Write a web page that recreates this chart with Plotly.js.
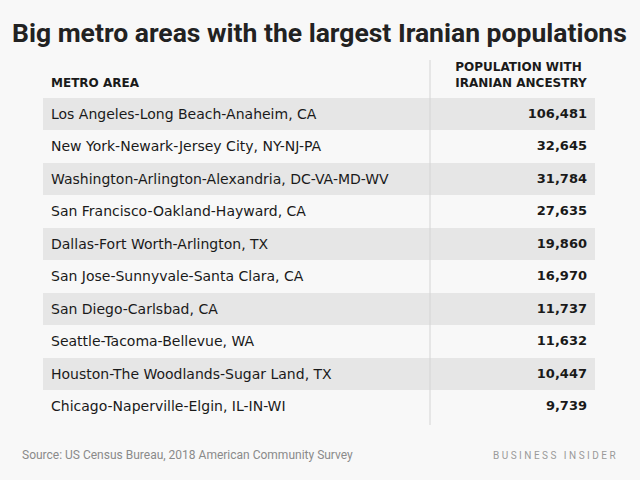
<!DOCTYPE html>
<html><head><meta charset="utf-8">
<script src="https://cdn.plot.ly/plotly-3.0.1.min.js"></script>
<style>html,body{margin:0;padding:0;background:#f8f8f8;}</style>
</head><body><div id="chart" style="width:640px;height:480px;"></div>
<script>
const metroAreas = [
  "Los Angeles-Long Beach-Anaheim, CA",
  "New York-Newark-Jersey City, NY-NJ-PA",
  "Washington-Arlington-Alexandria, DC-VA-MD-WV",
  "San Francisco-Oakland-Hayward, CA",
  "Dallas-Fort Worth-Arlington, TX",
  "San Jose-Sunnyvale-Santa Clara, CA",
  "San Diego-Carlsbad, CA",
  "Seattle-Tacoma-Bellevue, WA",
  "Houston-The Woodlands-Sugar Land, TX",
  "Chicago-Naperville-Elgin, IL-IN-WI"
];
const population = [106481, 32645, 31784, 27635, 19860, 16970, 11737, 11632, 10447, 9739];
const headers = ["\u00a0<br>METRO AREA", "POPULATION WITH<br>IRANIAN ANCESTRY"];

const bg = "#f8f8f8", shade = "#e6e6e6";
const rowFill = metroAreas.map((_, i) => i % 2 === 0 ? shade : bg);
const areaText = metroAreas.map(s => "<span>" + s + "</span>");
const popText = population.map(v => "<b>" + v.toLocaleString("en-US") + "</b>");

const trace = {
  type: "table",
  domain: {x: [43/640, 595/640], y: [1 - 450/480, 1 - 52/480]},
  columnwidth: [387, 165],
  header: {
    values: headers.map(h => "<b>" + h + "</b>"),
    align: ["left", "right"],
    height: 37,
    fill: {color: bg},
    line: {width: 0, color: bg},
    font: {family: "DejaVu Sans, sans-serif", size: 12, color: "#1a1a1a"}
  },
  cells: {
    values: [areaText, popText],
    align: ["left", "right"],
    height: 32.5,
    fill: {color: [rowFill, rowFill]},
    line: {width: 0, color: bg},
    font: {family: "DejaVu Sans, sans-serif", size: [14, 13], color: "#1a1a1a"}
  }
};

const layout = {
  width: 640, height: 480,
  margin: {l: 0, r: 0, t: 0, b: 0},
  paper_bgcolor: bg,
  plot_bgcolor: bg,
  title: {
    text: "<b>Big metro areas with the largest Iranian populations</b>",
    x: 12/640, xanchor: "left", y: 1 - 33/480, yanchor: "middle",
    font: {family: "Roboto, sans-serif", size: 26.5, color: "#222222"}
  },
  shapes: [{
    type: "line", xref: "paper", yref: "paper",
    x0: 430/640, x1: 430/640, y0: 1 - 425/480, y1: 1 - 60/480,
    line: {color: "#d4d4d4", width: 1}
  }],
  annotations: [
    {text: "Source: US Census Bureau, 2018 American Community Survey", xref: "paper", yref: "paper",
     x: 20/640, y: 1 - 455/480, xanchor: "left", yanchor: "middle", showarrow: false,
     font: {family: "Roboto, sans-serif", size: 12, color: "#8a8a8a"}},
    {text: "B U S I N E S S   I N S I D E R", xref: "paper", yref: "paper",
     x: 618/640, y: 1 - 455/480, xanchor: "right", yanchor: "middle", showarrow: false,
     font: {family: "Roboto, sans-serif", size: 10, color: "#9a9a9a"}}
  ]
};

Plotly.newPlot("chart", [trace], layout, {displayModeBar: false, staticPlot: true});
</script></body></html>
